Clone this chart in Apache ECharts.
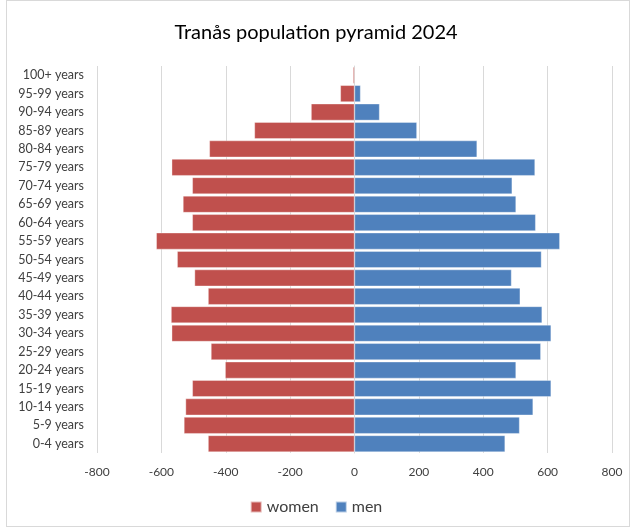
<!DOCTYPE html>
<html>
<head>
<meta charset="utf-8">
<script src="https://cdn.jsdelivr.net/npm/echarts@6/dist/echarts.min.js"></script>
<style>
  html, body { margin: 0; padding: 0; background: #fff; }
  #chart { position: absolute; left: 0; top: 0; width: 632px; height: 529px; }
  #frame { position: absolute; left: 6px; top: 0; width: 624px; height: 527px; border: 1px solid #d9d9d9; box-sizing: border-box; pointer-events: none; }
</style>
</head>
<body>
<div id="chart"></div>
<div id="frame"></div>
<script>
// age groups, youngest first (bottom of the pyramid)
var ageGroups = ['0-4 years', '5-9 years', '10-14 years', '15-19 years', '20-24 years',
  '25-29 years', '30-34 years', '35-39 years', '40-44 years', '45-49 years',
  '50-54 years', '55-59 years', '60-64 years', '65-69 years', '70-74 years',
  '75-79 years', '80-84 years', '85-89 years', '90-94 years', '95-99 years', '100+ years'];

// women drawn on the left, so negative
var women = [-455, -530, -525, -504, -402, -446, -568, -570, -455, -497,
  -551, -616, -504, -533, -504, -568, -451, -311, -135, -44, -5];

var men = [468, 513, 555, 611, 502, 579, 611, 583, 515, 488,
  581, 638, 563, 502, 490, 561, 381, 194, 78, 19, 0];

var xTicks = { min: -800, max: 800, step: 200 };

var myChart = echarts.init(document.getElementById('chart'));

var option = {
  animation: false,
  textStyle: { fontFamily: 'Lato, "Open Sans", sans-serif' },
  title: {
    text: 'Tranås population pyramid 2024',
    left: 'center',
    top: 18,
    textStyle: { fontSize: 20, fontWeight: 'normal', color: '#000', fontFamily: 'Lato, sans-serif' }
  },
  legend: {
    bottom: 9,
    left: 'center',
    itemWidth: 11,
    itemHeight: 11,
    itemGap: 16,
    icon: 'rect',
    textStyle: { fontSize: 16, color: '#404040' },
    data: ['women', 'men']
  },
  grid: { left: 97, right: 20, top: 66, bottom: 76, containLabel: false },
  xAxis: {
    type: 'value',
    min: xTicks.min,
    max: xTicks.max,
    interval: xTicks.step,
    axisLine: { show: false },
    axisTick: { show: false },
    axisLabel: { color: '#404040', fontSize: 12, margin: 13 },
    splitLine: { show: true, lineStyle: { color: '#d9d9d9', width: 1 } }
  },
  yAxis: {
    type: 'category',
    data: ageGroups,
    axisLine: { show: true, onZero: true, lineStyle: { color: '#d9d9d9' } },
    axisTick: { show: false },
    axisLabel: { color: '#404040', fontSize: 12.5, margin: 13, interval: 0 },
    position: 'left'
  },
  series: [
    {
      name: 'women',
      type: 'bar',
      stack: 'pop',
      barCategoryGap: '9%',
      data: women,
      itemStyle: { color: '#c0504d', borderColor: 'rgba(255,255,255,0.6)', borderWidth: 0.6 }
    },
    {
      name: 'men',
      type: 'bar',
      stack: 'pop',
      barCategoryGap: '9%',
      data: men,
      itemStyle: { color: '#4f81bd', borderColor: 'rgba(255,255,255,0.6)', borderWidth: 0.6 }
    }
  ]
};

myChart.setOption(option);
</script>
</body>
</html>
